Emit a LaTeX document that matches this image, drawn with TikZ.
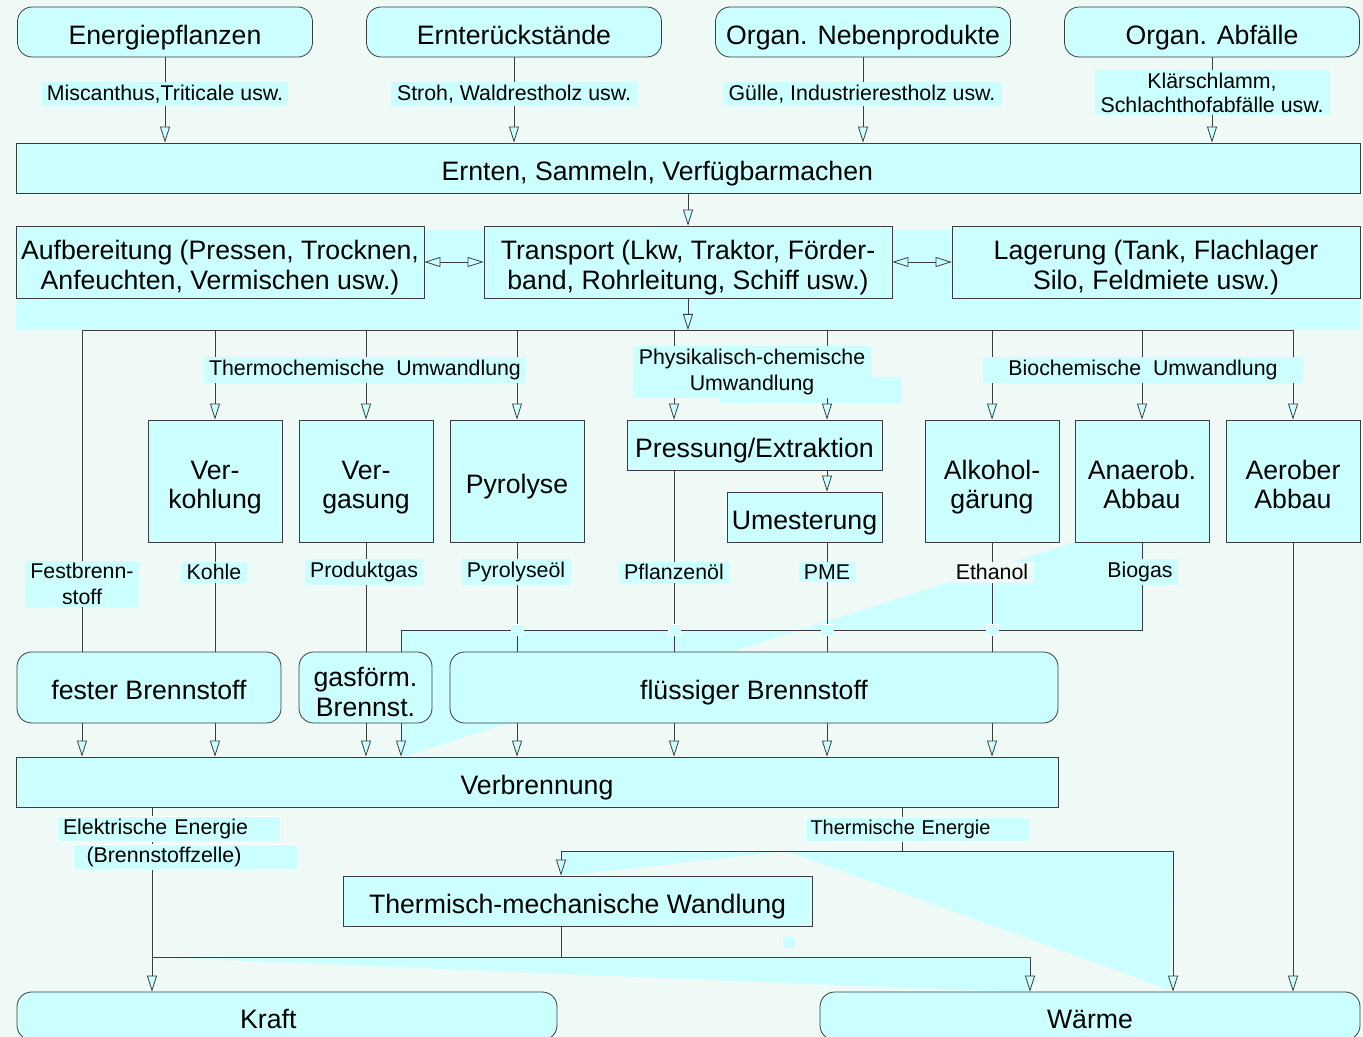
\documentclass[tikz,border=0pt]{standalone}
\usepackage{fontspec}
\setmainfont{Liberation Sans}
\usetikzlibrary{arrows.meta}
\definecolor{boxcyan}{RGB}{204,255,255}
\definecolor{bgmint}{RGB}{239,249,245}
\definecolor{linegray}{RGB}{60,60,60}
\newcommand{\pxu}{0.75pt}

\begin{document}
\begin{tikzpicture}[x=0.75pt, y=-0.75pt,
    box/.style={draw=linegray, fill=boxcyan, line width=0.6pt, inner sep=0pt, align=center,
      font=\fontsize{20}{22}\selectfont, execute at begin node={\rule[-5pt]{0pt}{28.5pt}}},
    two/.style={execute at begin node={\rule[-5pt]{0pt}{51pt}}},
    rbox/.style={box, rounded corners=11pt},
    lab/.style={fill=boxcyan, inner xsep=4pt, inner ysep=2pt, align=center,
      font=\fontsize{16}{19}\selectfont},
    conn/.style={draw=linegray, line width=0.6pt},
    arr/.style={conn, -{Triangle[length=12pt, width=7.5pt, fill=boxcyan]}},
    arrs/.style={conn, {Triangle[length=12pt, width=7.5pt, fill=boxcyan]}-{Triangle[length=12pt, width=7.5pt, fill=boxcyan]}},
    bridge/.style={fill=boxcyan, draw=white, line width=0.6pt}]
    \useasboundingbox (0,0) rectangle (1363,1037);
    \fill[bgmint] (0,0) rectangle (1363,1037);
    \clip (0,0) rectangle (1363,1037);

    % cyan patches of the original drawing
    \fill[boxcyan] (16,230) rectangle (1360,330);
    \fill[boxcyan] (401,630) -- (402,757) -- (1075,542) -- (1143,542) -- (1143,630) -- cycle;
    \fill[boxcyan] (561,851) -- (561,876) -- (787,851) -- (1170,990) -- (1173,851) -- cycle;
    \fill[boxcyan] (152,957) -- (1030,957) -- (1030,993) -- cycle;
    \fill[boxcyan] (783,937) rectangle (795,948);
    \fill[boxcyan] (720,377) rectangle (902,403);

    % sources
    \node[rbox, minimum width=295*\pxu, minimum height=50*\pxu] (src1) at (165,32) {Energiepflanzen};
    \node[rbox, minimum width=295*\pxu, minimum height=50*\pxu] (src2) at (514,32) {Ernterückstände};
    \node[rbox, minimum width=295*\pxu, minimum height=50*\pxu] (src3) at (863,32) {Organ. Nebenprodukte};
    \node[rbox, minimum width=295*\pxu, minimum height=50*\pxu] (src4) at (1212,32) {Organ. Abfälle};

    \node[box, minimum width=1344*\pxu, minimum height=50*\pxu] (ernten) at (688,168) {\hspace*{-46pt}Ernten, Sammeln, Verfügbarmachen};

    \node[box, two, minimum width=408*\pxu, minimum height=72*\pxu] (aufb) at (220,262) {Aufbereitung (Pressen, Trocknen,\\Anfeuchten, Vermischen usw.)};
    \node[box, two, minimum width=408*\pxu, minimum height=72*\pxu] (transp) at (688,262) {Transport (Lkw, Traktor, Förder-\\band, Rohrleitung, Schiff usw.)};
    \node[box, two, minimum width=408*\pxu, minimum height=72*\pxu] (lager) at (1156,262) {Lagerung (Tank, Flachlager\\Silo, Feldmiete usw.)};

    % conversion
    \node[box, two, minimum width=134*\pxu, minimum height=122*\pxu] (verk) at (215,481) {Ver-\\kohlung};
    \node[box, two, minimum width=134*\pxu, minimum height=122*\pxu] (verg) at (366,481) {Ver-\\gasung};
    \node[box, minimum width=134*\pxu, minimum height=122*\pxu] (pyro) at (517,481) {Pyrolyse};
    \node[box, minimum width=255*\pxu, minimum height=50*\pxu] (press) at (754.5,445) {Pressung/Extraktion};
    \node[box, minimum width=155*\pxu, minimum height=50*\pxu] (umest) at (804.5,517) {Umesterung};
    \node[box, two, minimum width=134*\pxu, minimum height=122*\pxu] (alk) at (992,481) {Alkohol-\\gärung};
    \node[box, two, minimum width=134*\pxu, minimum height=122*\pxu] (anae) at (1142,481) {Anaerob.\\Abbau};
    \node[box, two, minimum width=134*\pxu, minimum height=122*\pxu] (aero) at (1293,481) {Aerober\\Abbau};

    % fuels
    \node[rbox, minimum width=264*\pxu, minimum height=71*\pxu] (fest) at (149,687.5) {fester Brennstoff};
    \node[rbox, two, minimum width=133*\pxu, minimum height=71*\pxu,
      execute at begin node={\rule[-5pt]{0pt}{53pt}}] (gas) at (365.5,687.5) {gasförm.\\Brennst.};
    \node[rbox, minimum width=608*\pxu, minimum height=71*\pxu] (fluess) at (754,687.5) {flüssiger Brennstoff};

    \node[box, minimum width=1042*\pxu, minimum height=50*\pxu] (verbr) at (537,782) {Verbrennung};
    \node[box, minimum width=469*\pxu, minimum height=50*\pxu] (thm) at (577.5,901) {Thermisch-mechanische Wandlung};
    \node[rbox, minimum width=540*\pxu, minimum height=48*\pxu] (kraft) at (287,1016) {\hspace*{-28pt}Kraft};
    \node[rbox, minimum width=540*\pxu, minimum height=48*\pxu] (waerme) at (1090,1016) {Wärme};

    \coordinate (dist) at (688,330);
    \coordinate (fb) at (82,330);
    \coordinate (pfl) at (674,330);
    \coordinate (pme) at (827,330);
    \coordinate (bg) at (401,630);
    \coordinate (th) at (902,851);
    \coordinate (thl) at (561,851);
    \coordinate (thr) at (1173,851);
    \coordinate (mk) at (561,957);
    \coordinate (ml) at (152,957);
    \coordinate (mr) at (1030,957);

    \foreach \n in {src1,src2,src3,src4}
      \draw[arr] (\n.south) -- (\n.south |- ernten.north);
    \draw[arr] (ernten.south -| transp) -- (transp.north);
    \draw[arrs] (aufb.east) -- (transp.west);
    \draw[arrs] (transp.east) -- (lager.west);
    \draw[arr] (transp.south) -- (dist);

    \draw[conn] (fb) -- (aero.north |- dist);
    \foreach \n in {verk,verg,pyro,alk,anae,aero}
      \draw[arr] (\n.north |- dist) -- (\n.north);
    \draw[arr] (pfl) -- (pfl |- press.north);
    \draw[arr] (pme) -- (pme |- press.north);
    \draw[arr] (press.south -| pme) -- (umest.north -| pme);

    \draw[conn] (fb) -- (fb |- fest.north);
    \foreach \n/\m in {verk/fest,verg/gas,pyro/fluess,alk/fluess}
      \draw[conn] (\n.south) -- (\n.south |- \m.north);
    \draw[conn] (press.south -| pfl) -- (fluess.north -| pfl);
    \draw[conn] (umest.south -| pme) -- (fluess.north -| pme);
    \draw[conn] (anae.south) |- (bg) -- (bg |- gas.north);
    \foreach \x in {517,674,827,992}
      \draw[bridge] (\x-6,624) rectangle (\x+6,635);
    \draw[arr] (aero.south) -- (aero.south |- waerme.north);

    \foreach \n/\x in {fest/82,fest/215,gas/366,gas/401,fluess/517,fluess/674,fluess/827,fluess/992}
      \draw[arr] (\x,0 |- \n.south) -- (\x,0 |- verbr.north);

    \draw[arr] (verbr.south -| ml) -- (ml |- kraft.north);
    \draw[conn] (verbr.south -| th) -- (th);
    \draw[conn] (thl) -- (thr);
    \draw[arr] (thl) -- (thl |- thm.north);
    \draw[arr] (thr) -- (thr |- waerme.north);
    \draw[conn] (thm.south -| mk) -- (mk);
    \draw[conn] (ml) -- (mr);
    \draw[arr] (mr) -- (mr |- waerme.north);

    % labels
    \node[lab, minimum width=245*\pxu] (lmisc) at (165,94) {Miscanthus,Triticale usw.};
    \node[lab, minimum width=246*\pxu] (lstroh) at (514,94) {Stroh, Waldrestholz usw.};
    \node[lab, minimum width=279*\pxu] (lguelle) at (862,94) {Gülle, Industrierestholz usw.};
    \node[lab, minimum width=235*\pxu, font=\fontsize{16}{18}\selectfont] (lklaer) at (1212,93) {Klärschlamm,\\Schlachthofabfälle usw.};
    \node[lab] (lthermo) at (365,370) {Thermochemische\ \ Umwandlung};
    \node[lab, font=\fontsize{16}{19.5}\selectfont] (lphys) at (752,372) {Physikalisch-chemische\\Umwandlung};
    \node[lab, minimum width=320*\pxu] (lbio) at (1143,370) {Biochemische\ \ Umwandlung};
    \node[lab] (lfest) at (82,584) {Festbrenn-\\stoff};
    \node[lab] (lkohle) at (214,572) {Kohle};
    \node[lab] (lprod) at (364,572) {Produktgas};
    \node[lab] (lpyro) at (516,572) {Pyrolyseöl};
    \node[lab] (lpfl) at (674,572) {Pflanzenöl};
    \node[lab] (lpme) at (827,572) {PME};
    \node[lab, fill=bgmint] (leth) at (992,572) {Ethanol};
    \node[lab] (lbiogas) at (1140,572) {Biogas};
    \node[lab, draw=white, text width=212*\pxu, align=left] (lel) at (169,829) {Elektrische Energie};
    \node[lab, draw=white, text width=213*\pxu, align=left] (lbz) at (185,857) {\hspace*{6pt}(Brennstoffzelle)};
    \node[lab, draw=white, text width=213*\pxu, align=left, font=\fontsize{15}{18}\selectfont] (lth) at (917,829.5) {Thermische Energie};
\end{tikzpicture}
\end{document}
